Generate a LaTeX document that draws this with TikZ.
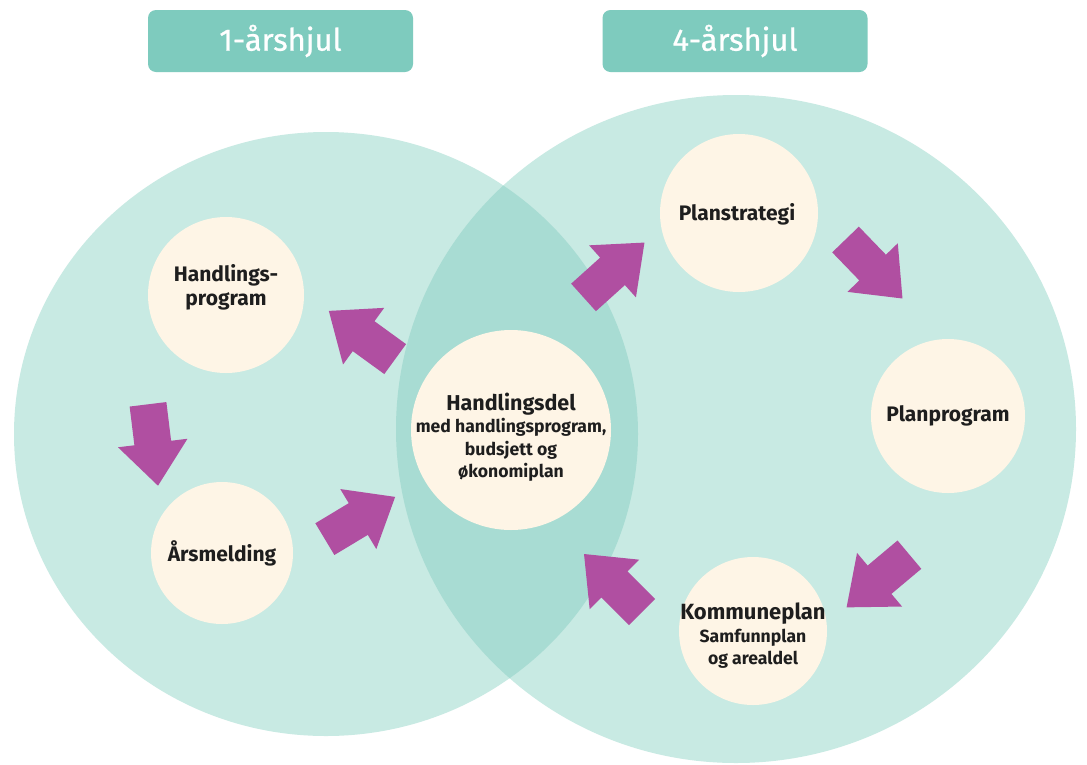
\documentclass[tikz,border=0pt]{standalone}
\usepackage{fontspec}
\setmainfont{Fira Sans}
\usetikzlibrary{shapes.geometric}
\definecolor{wheel}{HTML}{C8EAE3}
\definecolor{lens}{HTML}{A8DCD3}
\definecolor{titlebg}{HTML}{7ECBBE}
\definecolor{cream}{HTML}{FEF5E6}
\definecolor{arrowc}{HTML}{B04FA1}
\definecolor{ink}{HTML}{1E1E1E}
\begin{document}
\begin{tikzpicture}[x=1pt,y=-1pt,
  bigwheel/.style={ellipse, fill=wheel, inner sep=0pt},
  stage/.style={circle, fill=cream, inner sep=0pt, minimum size=#1},
  titlebox/.style={rectangle, rounded corners=8pt, fill=titlebg, text=white,
    minimum width=265pt, minimum height=62pt, inner sep=0pt,
    font=\fontsize{31}{36}\selectfont\addfontfeature{FakeBold=0.8}},
  lbl/.style={align=center, text=ink, inner sep=0pt, font=\bfseries\fontsize{21}{24}\selectfont},
  sublbl/.style={align=center, text=ink, inner sep=0pt, font=\bfseries\fontsize{17.6}{22.5}\selectfont},
  blockarrow/.pic={\fill[arrowc] (-41,-18.5) -- (-2,-18.5) -- (-2,-35) -- (41,0) -- (-2,35) -- (-2,18.5) -- (-41,18.5) -- cycle;}
]
\useasboundingbox (0,0) rectangle (1087,764);
\clip (0,0) rectangle (1087,764);
\fill[white] (0,0) rectangle (1087,764);

% big wheels
\node[bigwheel, minimum width=624pt, minimum height=604pt] (w1) at (326,434) {};
\node[bigwheel, minimum width=680pt, minimum height=668pt] (w4) at (736,429) {};
\begin{scope}
  \clip (326,434) ellipse[x radius=312, y radius=302];
  \fill[lens] (736,429) ellipse[x radius=340, y radius=334];
\end{scope}

% titles
\node[titlebox] (t1) at (280.5,41) {1-årshjul};
\node[titlebox] (t4) at (735,41) {4-årshjul};

% stage circles
\node[stage=200pt] (hd) at (511,430) {};
\node[stage=156pt] (hp) at (226,295) {};
\node[stage=142pt] (ar) at (222,553) {};
\node[stage=158pt] (ps) at (739,213) {};
\node[stage=154pt] (pp) at (948,416) {};
\node[stage=148pt] (kp) at (753,631) {};

% texts
\node[sublbl] (hd-t) at (511,437) {{\fontsize{21.5}{22.5}\selectfont Handlingsdel}\\med handlingsprogram,\\budsjett og\\økonomiplan};
\node[lbl] (hp-t) at (226,287) {Handlings-\\program};
\node[lbl] (ar-t) at (222,553) {Årsmelding};
\node[lbl] (ps-t) at (737,214) {Planstrategi};
\node[lbl] (pp-t) at (948,416) {Planprogram};
\node[sublbl] (kp-t) at (753,636) {{\fontsize{22}{22.5}\selectfont Kommuneplan}\\Samfunnplan\\og arealdel};

% arrows
\pic[rotate=144] (a1) at (362,335) {blockarrow};
\pic[rotate=-83] (a2) at (153,445) {blockarrow};
\pic[rotate=31] (a3) at (360,518) {blockarrow};
\pic[rotate=42] (a4) at (614,270) {blockarrow};
\pic[rotate=-46] (a5) at (874,269) {blockarrow};
\pic[rotate=220] (a6) at (878,581) {blockarrow};
\pic[rotate=135] (a7) at (613,583) {blockarrow};
\end{tikzpicture}
\end{document}
